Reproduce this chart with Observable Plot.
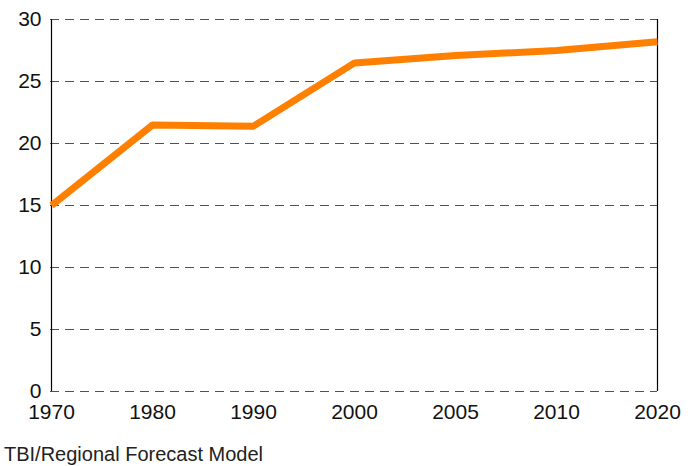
<!DOCTYPE html>
<html>
<head>
<meta charset="utf-8">
<script src="https://cdn.jsdelivr.net/npm/d3@7"></script>
<script src="https://cdn.jsdelivr.net/npm/@observablehq/plot@0.6"></script>
<style>
  html, body { margin: 0; padding: 0; background: #fff; }
  body { width: 693px; height: 466px; overflow: hidden; font-family: "Liberation Sans", Arial, sans-serif; }
  #chart svg { display: block; }
  #caption { font-size: 20px; line-height: 20px; color: #222; margin-left: 4px; margin-top: 12px; white-space: nowrap; }
</style>
</head>
<body>
<div id="chart"></div>
<div id="caption">TBI/Regional Forecast Model</div>
<script>
const years = ["1970", "1980", "1990", "2000", "2005", "2010", "2020"];
const values = [15.0, 21.5, 21.4, 26.5, 27.1, 27.5, 28.2];
const yTicks = [0, 5, 10, 15, 20, 25, 30];

const data = years.map((y, i) => ({year: y, value: values[i]}));

const chart = Plot.plot({
  width: 693,
  height: 432,
  marginLeft: 50,
  marginRight: 36,
  marginTop: 19,
  marginBottom: 41,
  style: {fontFamily: "'Liberation Sans', Arial, sans-serif", fontSize: "21px", color: "#111", background: "#fff"},
  x: {type: "point", domain: years, padding: 0},
  y: {domain: [0, 30]},
  marks: [
    Plot.ruleY(yTicks, {stroke: "#333", strokeWidth: 1.2, strokeDasharray: "9,6", strokeOpacity: 0.85}),
    Plot.ruleX([years[0], years[years.length - 1]], {y1: 0, y2: 30, stroke: "#000", strokeWidth: 1.2}),
    Plot.line(data, {x: "year", y: "value", stroke: "#ff8000", strokeWidth: 7, strokeLinecap: "butt", strokeLinejoin: "miter"}),
    Plot.axisY(yTicks, {tickSize: 0, tickPadding: 9, fontSize: 21, label: null}),
    Plot.axisX(years, {tickSize: 0, tickPadding: 13, fontSize: 21, label: null})
  ]
});
document.getElementById("chart").appendChild(chart);
</script>
</body>
</html>
